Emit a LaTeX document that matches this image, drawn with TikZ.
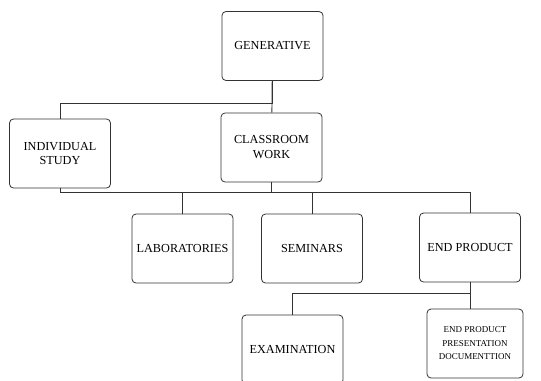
\documentclass[tikz,border=0pt]{standalone}
\usepackage{fontspec}
\setmainfont{Liberation Serif}
\def\BoxW{101bp}
\def\BoxH{69bp}

\begin{document}
\begin{tikzpicture}[x=1bp, y=-1bp, line width=0.8pt, draw=black!80,
  font=\fontsize{12.3}{15}\selectfont,
  box/.style={draw=black!80, rounded corners=4bp, align=center, inner sep=1bp,
    minimum width=\BoxW, minimum height=\BoxH}]
  \useasboundingbox (0, 0) rectangle (541, 380);

  \node[box] (gen) at (272.5, 46) {GENERATIVE};
  \node[box] (indiv) at (60, 153.5) {INDIVIDUAL\\STUDY};
  \node[box] (class) at (271.5, 147.5) {CLASSROOM\\WORK};

  \node[box] (lab) at (182.5, 248.5) {LABORATORIES};
  \node[box] (sem) at (312, 248.5) {SEMINARS};
  \node[box] (endp) at (470, 247.5) {END PRODUCT};

  \node[box] (exam) at (292.5, 349.5) {EXAMINATION};
  \node[box, minimum width=96bp, font=\fontsize{9}{13.5}\selectfont] (pres)
    at (475, 343.5) {END PRODUCT\\PRESENTATION\\DOCUMENTTION};

  \draw[black!80] (gen) -- (class);
  \draw[black!80] (gen.south) -- ++(0, 22) -| (indiv.north);

  \draw[black!80] (class.south) -- ++(0, 10) coordinate (bus);
  \draw[black!80] (indiv.south) |- (bus);
  \draw[black!80] (bus) -| (lab.north);
  \draw[black!80] (bus) -| (sem.north);
  \draw[black!80] (bus) -| (endp.north);

  \draw[black!80] (endp.south) -- (endp.south |- pres.north);
  \draw[black!80] (endp.south) -- ++(0, 11) -| (exam.north);
\end{tikzpicture}
\end{document}
